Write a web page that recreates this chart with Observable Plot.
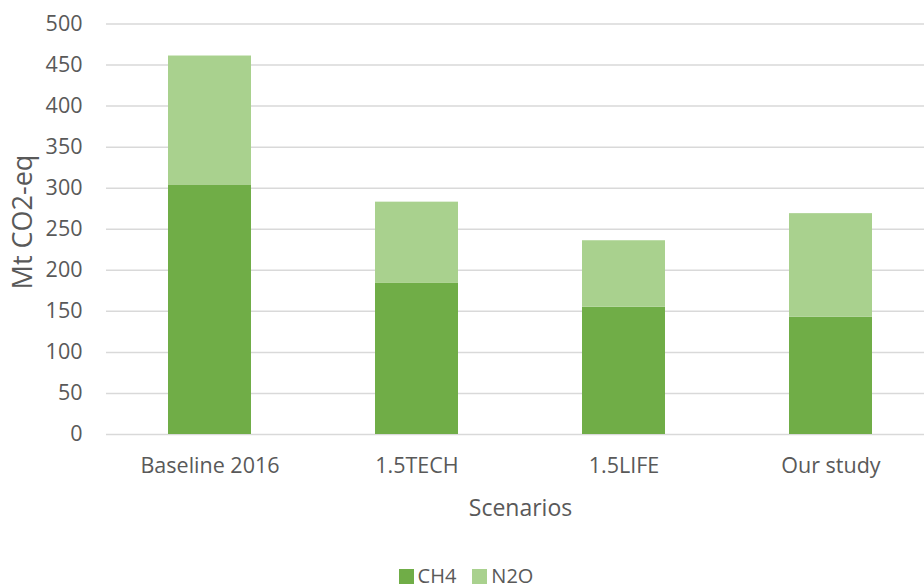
<!DOCTYPE html>
<html>
<head>
<meta charset="utf-8">
<script src="https://cdn.jsdelivr.net/npm/d3@7"></script>
<script src="https://cdn.jsdelivr.net/npm/@observablehq/plot@0.6"></script>
<style>
  html, body { margin: 0; padding: 0; background: #fff; overflow: hidden; }
  body { width: 924px; height: 588px; font-family: "Open Sans", sans-serif; position: relative; }
  #chart svg { display: block; }
  #legend { position: absolute; left: 0; top: 564px; width: 924px; display: flex; justify-content: center; gap: 16px; height: 24px; font-size: 20px; color: #595959; line-height: 24px; padding-left: 8px; box-sizing: border-box; }
  #legend .item { display: flex; align-items: center; gap: 4px; }
  #legend .sw { width: 15px; height: 15px; display: inline-block; }
</style>
</head>
<body>
<div id="chart"></div>
<div id="legend"></div>
<script>
const scenarios = ["Baseline 2016", "1.5TECH", "1.5LIFE", "Our study"];
const ch4 = [304, 184, 155, 143];
const n2o = [157, 99, 81, 126];
const gases = ["CH4", "N2O"];
const colors = ["#70AD47", "#A9D18E"];
const yTicks = [0, 50, 100, 150, 200, 250, 300, 350, 400, 450, 500];

const data = [];
scenarios.forEach((s, i) => {
  data.push({scenario: s, gas: "CH4", value: ch4[i]});
  data.push({scenario: s, gas: "N2O", value: n2o[i]});
});

const font = "'Open Sans', sans-serif";
const chart = Plot.plot({
  width: 924,
  height: 560,
  marginLeft: 106,
  marginRight: 0,
  marginTop: 23,
  marginBottom: 126,
  style: {fontFamily: font, color: "#595959", background: "#fff"},
  x: {domain: scenarios, range: [106, 934], paddingInner: 0.6, paddingOuter: 0.3, label: null},
  y: {domain: [0, 500], range: [434, 23.5], label: null},
  color: {domain: gases, range: colors},
  marks: [
    Plot.ruleY(yTicks, {stroke: "#D9D9D9", strokeWidth: 1.5}),
    Plot.barY(data, Plot.stackY({x: "scenario", y: "value", fill: "gas", order: gases})),
    Plot.axisY(yTicks, {tickSize: 0, tickPadding: 24, fontSize: 21.5, label: null, fill: "#595959"}),
    Plot.axisX({tickSize: 0, tickPadding: 23, fontSize: 21.5, label: null, fill: "#595959"}),
    Plot.text(["Mt CO2-eq"], {frameAnchor: "left", dx: -83, dy: -7, rotate: -90, fontSize: 27, fill: "#595959", textAnchor: "middle"}),
    Plot.text(["Scenarios"], {frameAnchor: "bottom", dx: 5, dy: 81, fontSize: 23, fill: "#595959", textAnchor: "middle"})
  ]
});
document.getElementById("chart").appendChild(chart);

const legend = document.getElementById("legend");
gases.forEach((g, i) => {
  const item = document.createElement("div");
  item.className = "item";
  const sw = document.createElement("span");
  sw.className = "sw";
  sw.style.background = colors[i];
  const t = document.createElement("span");
  t.textContent = g;
  item.appendChild(sw);
  item.appendChild(t);
  legend.appendChild(item);
});
</script>
</body>
</html>
